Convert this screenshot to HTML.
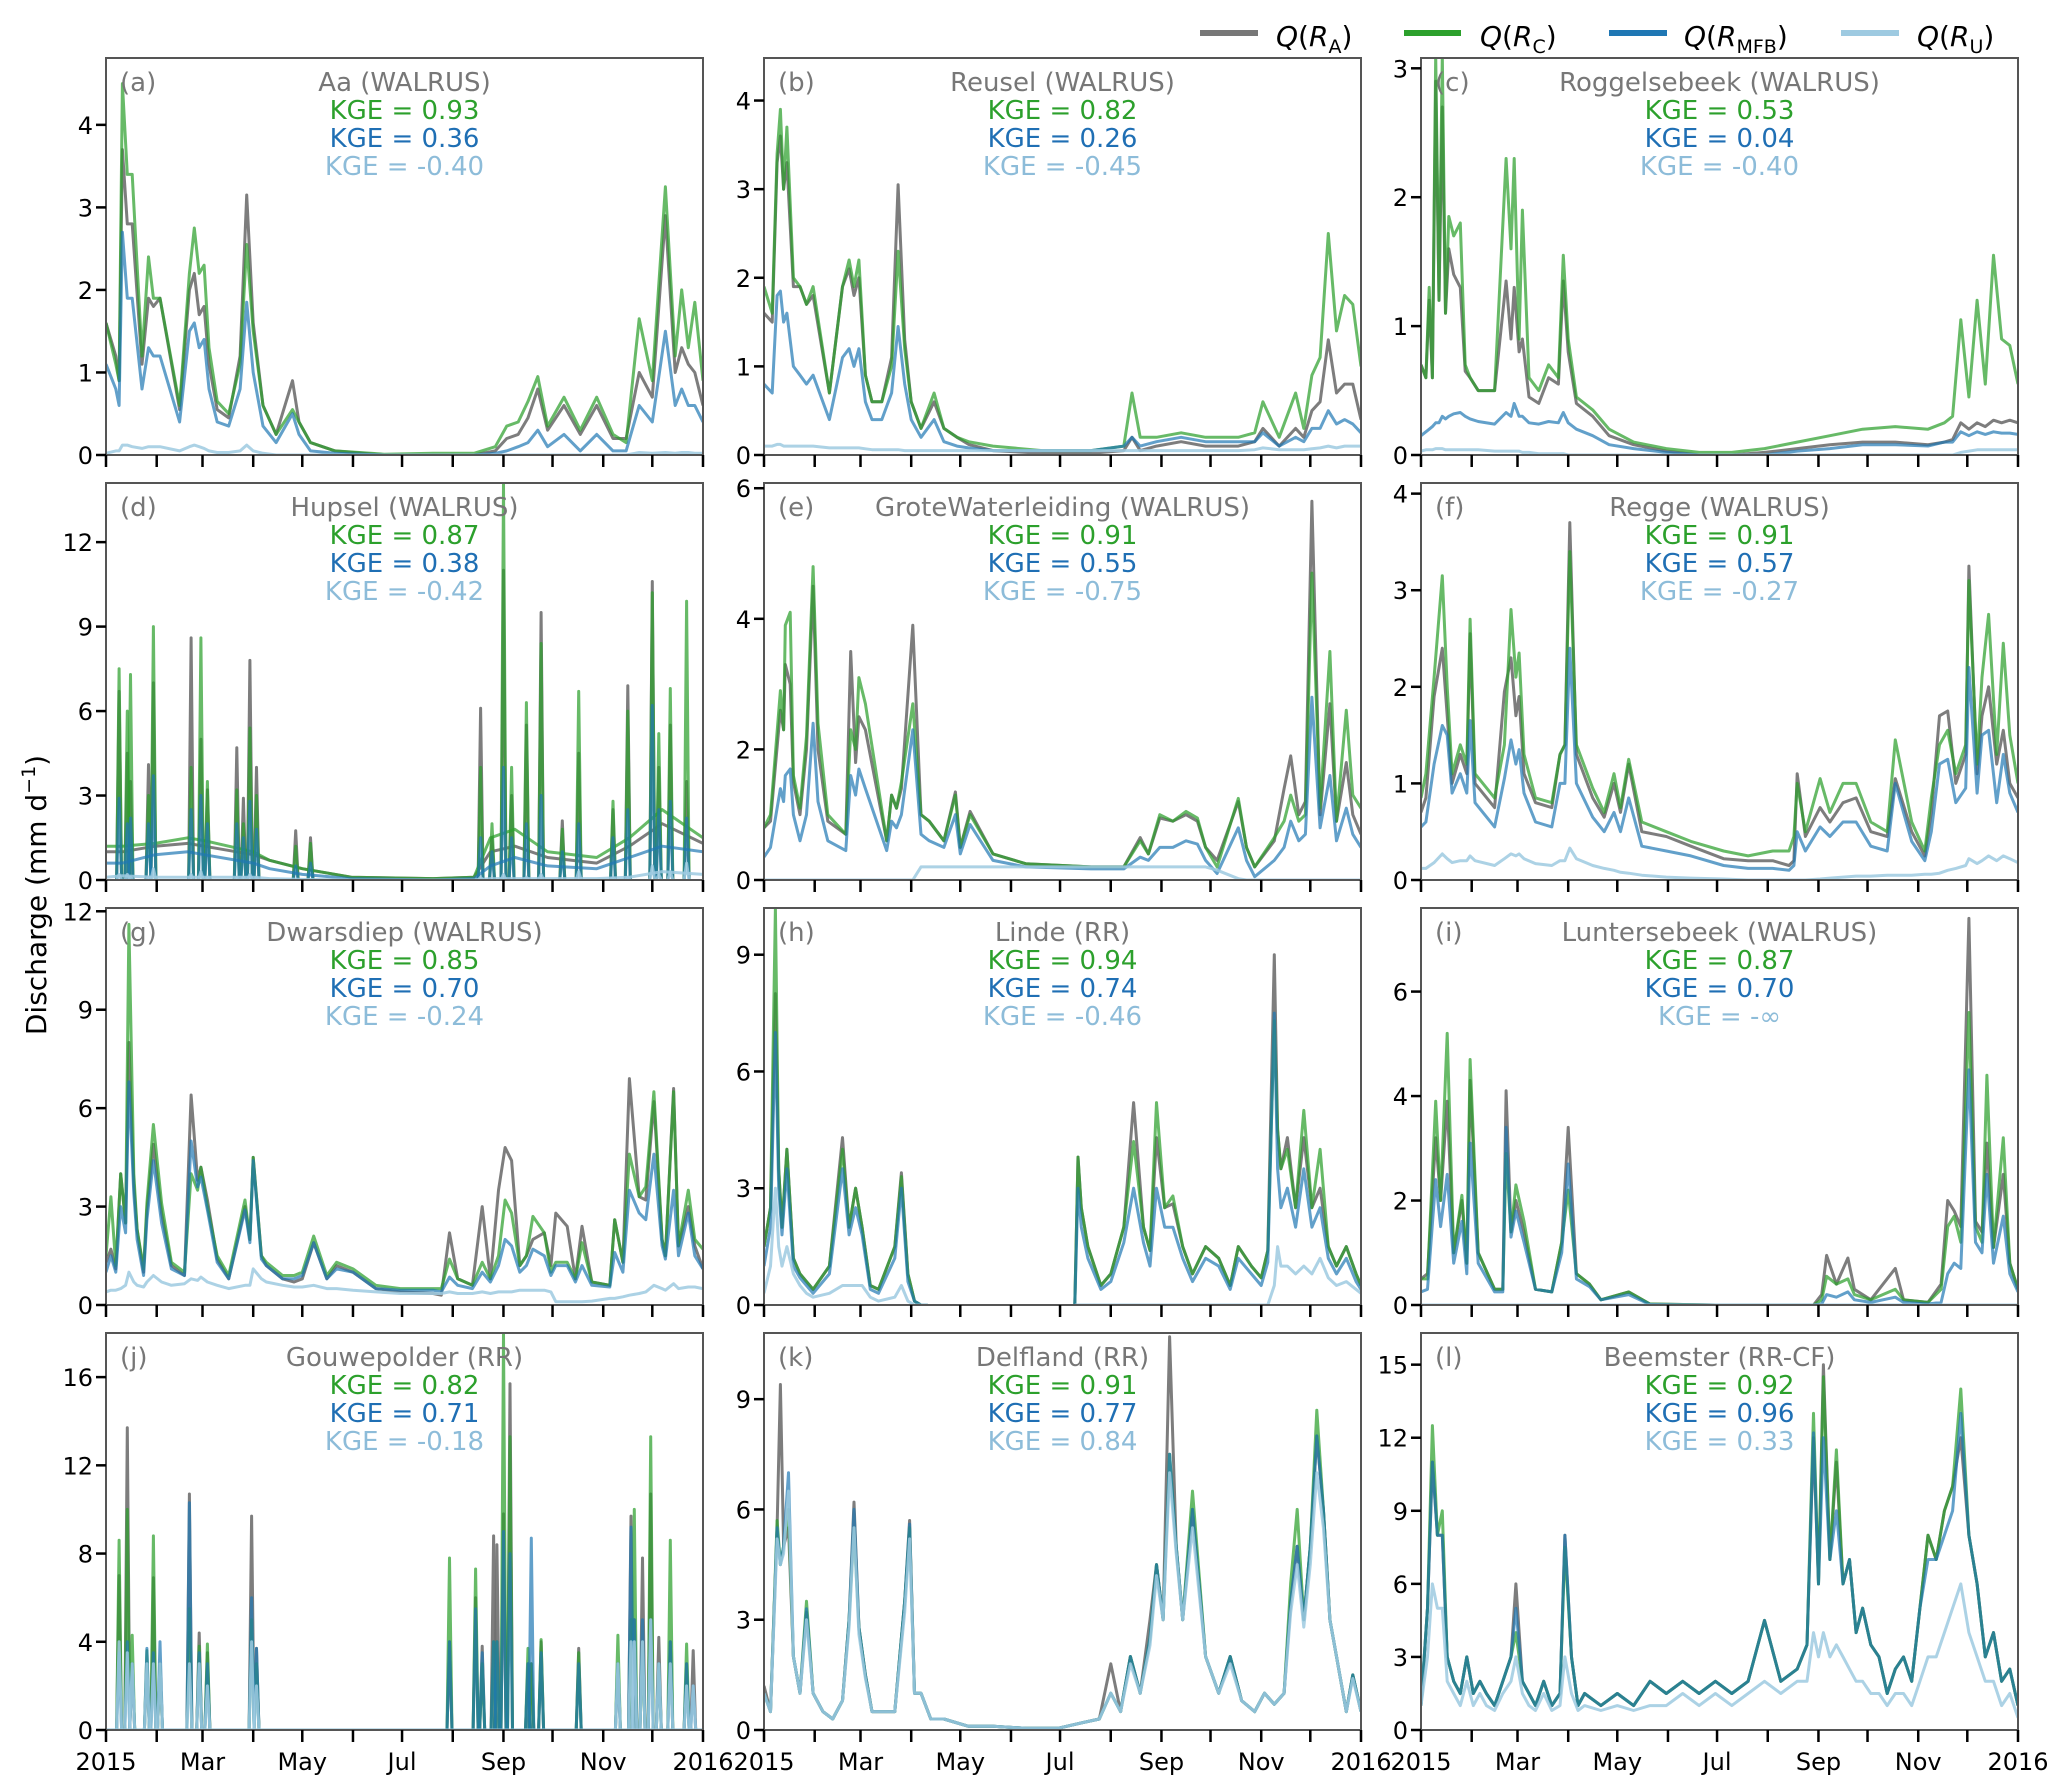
<!DOCTYPE html>
<html><head><meta charset="utf-8"><title>Discharge panels</title>
<style>
html,body{margin:0;padding:0;background:#fff;}
svg{display:block;font-family:"DejaVu Sans","Liberation Sans",sans-serif;}
</style></head>
<body>
<svg id="fig" width="2068" height="1791" viewBox="0 0 2068 1791" xmlns="http://www.w3.org/2000/svg">
  <g id="legend">
    <line x1="1200" y1="33" x2="1258" y2="33" stroke="#777" stroke-width="6"/>
    <text x="1276" y="46" font-size="28"><tspan font-style="italic">Q</tspan>(<tspan font-style="italic">R</tspan><tspan font-size="19" dy="7">A</tspan><tspan dy="-7">)</tspan></text>
    <line x1="1404" y1="33" x2="1461" y2="33" stroke="#2ca02c" stroke-width="6"/>
    <text x="1480" y="46" font-size="28"><tspan font-style="italic">Q</tspan>(<tspan font-style="italic">R</tspan><tspan font-size="19" dy="7">C</tspan><tspan dy="-7">)</tspan></text>
    <line x1="1609" y1="33" x2="1667" y2="33" stroke="#1f77b4" stroke-width="6"/>
    <text x="1684" y="46" font-size="28"><tspan font-style="italic">Q</tspan>(<tspan font-style="italic">R</tspan><tspan font-size="19" dy="7">MFB</tspan><tspan dy="-7">)</tspan></text>
    <line x1="1841" y1="33" x2="1899" y2="33" stroke="#9ecae1" stroke-width="6"/>
    <text x="1917" y="46" font-size="28"><tspan font-style="italic">Q</tspan>(<tspan font-style="italic">R</tspan><tspan font-size="19" dy="7">U</tspan><tspan dy="-7">)</tspan></text>
  </g>
  <text x="0" y="0" font-size="28" text-anchor="middle" transform="translate(46,895) rotate(-90)">Discharge (mm d<tspan font-size="19" dy="-11">−1</tspan><tspan dy="11">)</tspan></text>
</svg>
<script>
// ---------- data (days of 2015, values in mm/d) ----------
const monthTickDays = [0,31,59,90,120,151,181,212,243,273,304,334,365];
const xLabelDays = [0,59,120,181,243,304,365];
const xLabels = ["2015","Mar","May","Jul","Sep","Nov","2016"];

const panelLetters = ["(a)","(b)","(c)","(d)","(e)","(f)","(g)","(h)","(i)","(j)","(k)","(l)"];
const panelTitles = ["Aa (WALRUS)","Reusel (WALRUS)","Roggelsebeek (WALRUS)","Hupsel (WALRUS)","GroteWaterleiding (WALRUS)","Regge (WALRUS)","Dwarsdiep (WALRUS)","Linde (RR)","Luntersebeek (WALRUS)","Gouwepolder (RR)","Delfland (RR)","Beemster (RR-CF)"];
const kgeC = ["0.93","0.82","0.53","0.87","0.91","0.91","0.85","0.94","0.87","0.82","0.91","0.92"];
const kgeM = ["0.36","0.26","0.04","0.38","0.55","0.57","0.70","0.74","0.70","0.71","0.77","0.96"];
const kgeU = ["-0.40","-0.45","-0.40","-0.42","-0.75","-0.27","-0.24","-0.46","-∞","-0.18","0.84","0.33"];
const yMaxes = [4.81,4.48,3.08,14.1,6.08,4.11,12.1,10.2,7.6,18.0,10.8,16.3];
const yTicks = [[0,1,2,3,4],[0,1,2,3,4],[0,1,2,3],[0,3,6,9,12],[0,2,4,6],[0,1,2,3,4],[0,3,6,9,12],[0,3,6,9],[0,2,4,6],[0,4,8,12,16],[0,3,6,9],[0,3,6,9,12,15]];

// (a) Aa
const daysA = [0,6,8,10,13,16,22,26,29,33,45,51,54,57,60,63,68,75,82,86,90,96,104,114,118,125,140,170,200,225,238,245,252,258,264,270,280,290,300,310,318,326,334,342,348,352,356,360,365];
const raA = [1.6,1.2,0.9,3.7,2.8,2.8,1.1,1.9,1.8,1.9,0.55,2.0,2.2,1.7,1.8,1.1,0.55,0.45,1.2,3.15,1.6,0.6,0.25,0.9,0.4,0.15,0.05,0,0,0,0.05,0.2,0.25,0.45,0.8,0.3,0.6,0.25,0.6,0.2,0.2,1.0,0.7,2.9,1.0,1.3,1.1,1.0,0.6];
const rcA = [1.6,1.1,0.9,4.5,3.4,3.4,1.2,2.4,1.9,1.9,0.6,2.2,2.75,2.2,2.3,1.3,0.65,0.5,1.1,2.55,1.5,0.6,0.25,0.55,0.4,0.15,0.05,0.01,0.02,0.02,0.1,0.35,0.4,0.65,0.95,0.35,0.7,0.3,0.7,0.25,0.15,1.65,0.9,3.25,1.2,2.0,1.3,1.85,0.9];
const rmA = [1.1,0.8,0.6,2.7,1.9,1.9,0.8,1.3,1.2,1.2,0.4,1.5,1.6,1.3,1.4,0.8,0.4,0.35,0.8,1.85,1.0,0.35,0.15,0.5,0.25,0.05,0.02,0,0,0,0.02,0.05,0.1,0.15,0.3,0.1,0.25,0.05,0.25,0.05,0.05,0.6,0.4,1.5,0.6,0.8,0.6,0.6,0.4];
const ruA = [0.02,0.05,0.05,0.12,0.12,0.1,0.08,0.1,0.1,0.1,0.05,0.1,0.12,0.1,0.08,0.05,0.03,0.03,0.05,0.12,0.05,0.02,0,0,0,0,0,0,0,0,0,0,0,0,0,0,0,0,0,0,0,0.03,0.02,0.03,0.02,0.03,0.03,0.02,0.02];

// (b) Reusel
const daysB = [0,5,8,10,12,14,18,22,26,30,40,48,52,55,58,62,66,72,78,82,86,90,96,104,110,118,125,140,170,200,220,225,230,240,255,270,290,300,305,315,325,330,335,340,345,350,355,360,365];
const raB = [1.6,1.5,3.3,3.6,3.0,3.3,1.9,1.9,1.7,1.8,0.7,1.9,2.1,1.8,2.0,0.9,0.6,0.6,1.1,3.05,1.3,0.6,0.3,0.6,0.3,0.2,0.12,0.05,0.02,0.02,0.05,0.2,0.05,0.1,0.15,0.1,0.1,0.15,0.3,0.1,0.3,0.2,0.5,0.6,1.3,0.7,0.8,0.8,0.4];
const rcB = [1.9,1.6,3.4,3.9,3.0,3.7,2.0,1.9,1.7,1.9,0.7,1.9,2.2,1.9,2.2,0.9,0.6,0.6,1.0,2.3,1.2,0.6,0.3,0.7,0.3,0.2,0.15,0.1,0.05,0.05,0.1,0.7,0.2,0.2,0.25,0.2,0.2,0.25,0.6,0.2,0.7,0.3,0.9,1.1,2.5,1.4,1.8,1.7,1.0];
const rmB = [0.8,0.7,1.8,1.85,1.5,1.6,1.0,0.9,0.8,0.9,0.4,1.1,1.2,1.0,1.2,0.6,0.4,0.4,0.7,1.45,0.8,0.4,0.2,0.4,0.15,0.1,0.08,0.05,0.05,0.05,0.1,0.2,0.1,0.15,0.2,0.15,0.15,0.15,0.25,0.1,0.2,0.15,0.3,0.3,0.5,0.35,0.4,0.35,0.25];
const ruB = [0.1,0.1,0.12,0.12,0.1,0.1,0.1,0.1,0.1,0.1,0.08,0.08,0.08,0.08,0.08,0.07,0.06,0.06,0.06,0.06,0.05,0.05,0.05,0.05,0.05,0.05,0.05,0.05,0.05,0.05,0.05,0.05,0.05,0.05,0.05,0.05,0.05,0.06,0.08,0.06,0.06,0.06,0.07,0.08,0.1,0.08,0.1,0.1,0.1];

// (c) Roggelsebeek
const daysC = [0,3,5,7,9,11,13,15,17,20,24,27,30,35,45,52,55,57,60,62,66,72,78,84,87,90,95,105,115,130,150,170,190,210,230,250,270,290,310,320,325,330,335,340,345,350,355,360,365];
const raC = [0.7,0.6,1.2,0.6,2.9,1.2,2.7,1.1,1.6,1.4,1.3,0.65,0.6,0.5,0.5,1.35,0.9,1.3,0.8,0.9,0.45,0.4,0.6,0.55,1.35,0.8,0.4,0.3,0.15,0.08,0.03,0,0,0.02,0.05,0.08,0.1,0.1,0.08,0.1,0.12,0.25,0.2,0.25,0.22,0.27,0.25,0.27,0.25];
const rcC = [0.7,0.6,1.3,0.6,3.1,1.2,3.1,1.1,1.85,1.7,1.8,0.7,0.6,0.5,0.5,2.3,1.6,2.3,0.9,1.9,0.6,0.5,0.7,0.6,1.55,0.9,0.45,0.35,0.2,0.1,0.05,0.02,0.02,0.05,0.1,0.15,0.2,0.22,0.2,0.25,0.3,1.05,0.45,1.2,0.55,1.55,0.9,0.85,0.55];
const rmC = [0.15,0.18,0.2,0.22,0.25,0.25,0.3,0.28,0.3,0.32,0.33,0.3,0.28,0.26,0.24,0.33,0.3,0.4,0.3,0.3,0.25,0.24,0.26,0.25,0.33,0.25,0.2,0.15,0.08,0.05,0.02,0,0,0,0.03,0.05,0.08,0.08,0.07,0.1,0.1,0.18,0.15,0.18,0.16,0.18,0.17,0.17,0.16];
const ruC = [0.03,0.04,0.04,0.04,0.05,0.05,0.05,0.04,0.04,0.04,0.04,0.04,0.04,0.04,0.03,0.03,0.03,0.03,0.03,0.02,0.02,0.01,0.01,0.01,0.01,0,0,0,0,0,0,0,0,0,0,0,0,0,0,0,0,0.02,0.03,0.04,0.04,0.04,0.04,0.04,0.04];

// (d) Hupsel: recession lines + flow spikes
const daysD = [0,10,30,50,60,90,100,120,150,200,225,235,250,270,300,320,340,365];
const raD = [1.0,1.0,1.2,1.3,1.2,0.9,0.7,0.4,0.1,0.05,0.1,1.0,1.2,0.8,0.6,1.2,2.0,1.3];
const rcD = [1.2,1.2,1.3,1.5,1.4,1.0,0.7,0.4,0.1,0.05,0.1,1.5,1.8,1.0,0.8,1.5,2.5,1.5];
const rmD = [0.6,0.6,0.9,1.0,0.9,0.6,0.4,0.2,0.05,0,0.05,0.5,0.8,0.5,0.4,0.8,1.2,1.0];
const ruD = [0.1,0.15,0.1,0.1,0.1,0.1,0.05,0.02,0,0,0,0.05,0.05,0.05,0.05,0.1,0.3,0.2];
const spikeDaysD = [8,13,15,26,29,52,58,62,80,84,88,92,116,125,229,236,243,248,257,266,279,289,310,319,334,338,345,355];
const spikeRaD = [6.7,4.5,3.5,4.1,7,8.6,5,3.2,4.7,2.9,7.8,4,1.75,1.5,6.1,1.5,11,3,5.5,9.5,2.1,4.5,2.5,6.9,10.6,4,5.5,3.5];
const spikeRcD = [7.5,6,7.3,3,9,4,8.6,3.5,3.2,2,5.4,3,1.2,1.3,4,2,14.1,4,6.3,8.4,1.8,6.7,2.8,6,10.2,5.2,6.8,9.9];
const spikeRmD = [2.9,2,2.2,2,3.7,2.5,3,2,2,1.5,2.8,1.8,0.5,0.6,1.5,1,4,1.5,2,3,1,2,1.5,2.5,6.2,2.5,2.8,2.2];
const spikeRuD = [0.2,0.2,0.1,0.1,0.4,0.2,0.3,0.1,0.1,0.1,0.2,0.1,0,0,0.1,0,0.2,0,0.1,0.2,0,0.3,0.1,0.1,0.5,0.2,0.3,0.6];

// (e) GroteWaterleiding
const daysE = [0,4,10,12,13,16,18,22,26,30,33,39,50,53,56,58,62,75,78,81,84,91,96,101,110,117,120,126,140,160,200,220,230,235,242,250,258,265,270,277,290,295,300,312,318,322,327,331,335,340,346,350,356,360,365];
const raE = [0.8,0.9,2.6,2.3,3.3,3.0,1.5,1.0,2.0,4.5,2.0,0.9,0.7,3.5,1.8,2.5,2.3,0.6,1.3,1.1,1.4,3.9,1.0,0.9,0.6,1.35,0.5,1.05,0.4,0.25,0.2,0.2,0.65,0.4,0.95,0.9,1.0,0.9,0.5,0.3,1.2,0.5,0.2,0.6,1.4,1.9,1.0,1.2,5.8,1.0,2.7,0.9,1.8,1.0,0.7];
const rcE = [0.8,1.0,2.9,2.3,3.9,4.1,1.6,1.1,2.2,4.8,2.4,1.0,0.7,2.3,2.0,3.1,2.7,0.6,1.3,1.1,1.5,2.7,1.0,0.9,0.6,1.3,0.5,1.0,0.4,0.25,0.2,0.2,0.6,0.4,1.0,0.9,1.05,0.95,0.5,0.2,1.25,0.5,0.2,0.65,0.9,1.3,0.9,1.0,4.7,1.1,3.5,0.9,2.6,1.3,1.1];
const rmE = [0.35,0.5,1.4,1.2,1.6,1.7,1.0,0.6,1.0,2.4,1.2,0.6,0.45,1.6,1.3,1.7,1.4,0.45,0.9,0.8,1.0,2.3,0.7,0.6,0.5,1.0,0.4,0.85,0.3,0.2,0.17,0.17,0.35,0.3,0.5,0.5,0.6,0.55,0.3,0.1,0.8,0.3,0.05,0.3,0.5,0.9,0.6,0.7,2.8,0.8,1.6,0.6,1.1,0.7,0.5];
const ruE = [0,0,0,0,0,0,0,0,0,0,0,0,0,0,0,0,0,0,0,0,0,0,0.2,0.2,0.2,0.2,0.2,0.2,0.2,0.2,0.2,0.2,0.2,0.2,0.2,0.2,0.2,0.2,0.2,0.15,0.02,0,0,0,0,0,0,0,0,0,0,0,0,0,0];

// (f) Regge
const daysF = [0,3,8,13,16,19,24,28,30,33,45,51,55,58,60,63,70,80,85,88,91,95,105,112,118,122,127,135,150,165,185,200,215,225,228,230,235,244,250,258,266,275,285,290,300,308,312,317,322,327,333,335,340,343,347,352,356,360,365];
const raF = [0.7,0.85,1.9,2.4,1.7,1.0,1.3,1.1,2.55,1.0,0.75,1.95,2.3,1.7,1.9,1.1,0.8,0.75,1.3,1.4,3.7,1.3,0.85,0.65,1.0,0.7,1.2,0.5,0.45,0.35,0.22,0.2,0.2,0.15,0.2,1.1,0.45,0.75,0.6,0.8,0.85,0.5,0.45,1.05,0.5,0.25,0.7,1.7,1.75,1.0,1.3,3.25,1.1,1.7,2.0,1.2,1.55,1.0,0.85];
const rcF = [0.85,1.1,2.1,3.15,2.0,1.1,1.4,1.2,2.7,1.1,0.85,1.4,2.8,2.1,2.35,1.3,0.85,0.8,1.3,1.4,3.4,1.4,0.95,0.7,1.1,0.75,1.25,0.6,0.5,0.4,0.3,0.25,0.3,0.3,0.45,1.0,0.5,1.05,0.7,1.0,1.0,0.6,0.5,1.45,0.6,0.3,0.85,1.4,1.55,1.1,1.4,3.1,1.2,2.1,2.75,1.3,2.45,1.5,1.0];
const rmF = [0.55,0.6,1.2,1.6,1.5,0.9,1.1,0.9,1.65,0.8,0.55,1.05,1.45,1.2,1.35,0.9,0.6,0.55,1.0,1.0,2.4,1.0,0.65,0.5,0.7,0.5,0.85,0.35,0.3,0.25,0.15,0.12,0.12,0.1,0.15,0.5,0.3,0.55,0.45,0.6,0.6,0.35,0.3,1.0,0.4,0.2,0.5,1.2,1.25,0.8,0.95,2.2,0.9,1.5,1.55,0.8,1.3,0.9,0.7];
const ruF = [0.12,0.12,0.18,0.27,0.22,0.18,0.2,0.2,0.25,0.2,0.15,0.22,0.27,0.25,0.27,0.22,0.17,0.15,0.2,0.2,0.33,0.22,0.15,0.12,0.1,0.08,0.07,0.05,0.03,0.02,0.01,0,0,0,0,0,0,0.01,0.02,0.03,0.04,0.04,0.05,0.05,0.05,0.06,0.06,0.07,0.1,0.12,0.15,0.22,0.17,0.2,0.25,0.2,0.25,0.22,0.18];

// (g) Dwarsdiep
const daysG = [0,3,6,9,12,14,17,19,23,25,29,34,40,48,52,56,58,62,68,75,85,88,90,95,98,108,115,120,127,135,141,151,165,180,200,205,210,215,224,230,235,240,244,248,253,257,261,268,272,275,282,287,291,297,308,311,316,320,326,330,335,340,342,347,350,356,360,365];
const raG = [1.3,1.7,1.1,4.0,2.5,8.0,3.7,2.3,1.0,2.9,4.9,2.8,1.2,0.9,6.4,3.8,4.2,3.2,1.4,0.8,3.0,2,4.5,1.5,1.2,0.8,0.7,0.8,1.9,0.8,1.2,1.0,0.5,0.4,0.35,0.3,2.2,0.8,0.6,3.0,0.8,3.5,4.8,4.4,1.2,1.5,2.0,2.2,1.2,2.8,2.4,0.8,2.4,0.7,0.6,2.6,1.3,6.9,3.3,3.2,6.2,2,1.5,6.6,1.8,3.0,1.8,1.1];
const rcG = [1.5,3.3,1.2,4.0,2.5,11.6,4,2.3,1.1,3.1,5.5,3.1,1.3,1.0,4.0,3.5,4.2,3.0,1.5,0.9,3.2,2,4.5,1.5,1.3,0.9,0.9,1.0,2.1,0.9,1.3,1.1,0.6,0.5,0.5,0.5,1.4,0.8,0.6,1.3,0.8,1.5,3.2,2.8,1.2,1.5,2.7,2.2,1.0,1.3,1.3,0.8,1.9,0.7,0.6,2.6,1.3,4.6,3.3,3.6,6.5,2,1.5,6.5,1.8,3.5,2.0,1.7];
const rmG = [1.0,1.5,1.0,3.0,2.2,6.8,3.4,2.0,0.9,2.6,4.4,2.5,1.1,0.9,5.0,3.6,3.9,2.9,1.3,0.8,2.9,1.9,4.4,1.4,1.2,0.8,0.8,0.9,1.9,0.8,1.1,1.0,0.5,0.45,0.45,0.4,0.85,0.6,0.5,1.0,0.7,1.2,2.0,1.8,1.0,1.2,1.7,1.5,0.9,1.2,1.2,0.7,1.2,0.6,0.55,1.6,1.0,3.5,2.8,2.6,4.6,1.8,1.4,3.5,1.5,2.8,1.5,1.1];
const ruG = [0.4,0.45,0.45,0.5,0.6,1.0,0.7,0.6,0.55,0.7,0.9,0.7,0.6,0.65,0.8,0.75,0.85,0.7,0.6,0.5,0.6,0.6,1.1,0.8,0.7,0.6,0.55,0.55,0.6,0.5,0.5,0.45,0.4,0.35,0.35,0.35,0.4,0.35,0.35,0.4,0.35,0.4,0.4,0.4,0.45,0.45,0.45,0.45,0.4,0.1,0.1,0.1,0.1,0.12,0.2,0.2,0.25,0.3,0.35,0.4,0.6,0.5,0.45,0.65,0.5,0.55,0.55,0.5];

// (h) Linde (null = missing)
const daysH = [0,4,7,9,11,14,18,22,26,30,40,48,52,56,60,65,70,80,84,88,92,96,100,110,120,130,140,180,190,192,194,198,202,206,212,220,226,232,236,240,245,250,256,262,270,278,285,290,298,304,308,312,314,316,320,325,330,335,340,345,350,356,362,365];
const raH = [1.5,2.5,8,3.5,2,4,1.2,0.8,0.6,0.4,1,4.3,2,3,2,0.5,0.4,1.5,3.4,0.8,0.1,0,0,null,null,null,null,null,0,3.8,2.5,1.5,1,0.5,0.8,2,5.2,2,1.4,4.3,2.5,2.6,1.5,0.8,1.5,1.2,0.5,1.5,1,0.7,1.4,9,4.5,3.5,4.3,2.5,4.3,2.5,3,1.5,1,1.5,0.8,0.5];
const rcH = [1.5,2.5,10.2,3.5,2,4,1.2,0.8,0.6,0.4,1,4,2,3,2,0.5,0.4,1.5,3.3,0.8,0.1,0,0,null,null,null,null,null,0,3.8,2.5,1.5,1,0.5,0.8,2,4.2,2,1.4,5.2,2.5,2.8,1.5,0.8,1.5,1.2,0.5,1.5,1,0.7,1.4,7.3,4.5,3.5,4,2.5,5,2.5,4,1.5,1,1.5,0.8,0.5];
const rmH = [1,2,7,3,1.8,3.5,1,0.7,0.5,0.3,0.8,3.5,1.8,2.5,1.8,0.4,0.3,1.2,3,0.6,0.1,0,0,null,null,null,null,null,0,3,2,1.2,0.8,0.4,0.6,1.6,3,1.6,1,3,2,2,1.2,0.6,1.2,1,0.4,1.2,0.8,0.5,1.1,7.5,3.5,2.5,3,2,3.5,2,2.5,1.2,0.8,1.2,0.6,0.4];
const ruH = [0.3,1,3,1.5,1,1.5,0.8,0.5,0.3,0.2,0.3,0.5,0.5,0.5,0.5,0.2,0.1,0.2,0.5,0.1,0,0,0,null,null,null,null,null,0,0,0,0,0,0,0,0,0,0,0,0,0,0,0,0,0,0,0,0,0,0,0,0.5,1.5,1,1,0.8,1,0.8,1.2,0.7,0.5,0.6,0.4,0.3];

// (i) Luntersebeek
const daysI = [0,4,9,12,16,20,25,28,30,35,45,50,52,55,58,63,70,80,86,90,95,103,110,127,140,180,240,245,248,254,261,265,275,290,295,310,318,322,326,330,335,339,343,346,350,356,360,365];
const raI = [0.5,0.6,3.2,2,3.9,1,2.0,0.8,4.3,1,0.3,0.3,4.1,1.4,2,1.4,0.3,0.25,1.2,3.4,0.6,0.4,0.1,0.25,0.02,0,0,0.2,0.95,0.4,0.9,0.3,0.1,0.7,0.1,0.05,0.4,2.0,1.8,1.5,7.4,1.6,1.4,3.1,1.1,2.5,0.8,0.3];
const rcI = [0.5,0.5,3.9,2,5.2,1,2.1,0.8,4.7,1,0.3,0.3,2.9,1.4,2.3,1.6,0.3,0.25,1.2,2.2,0.6,0.4,0.1,0.25,0.02,0,0,0.1,0.55,0.4,0.5,0.2,0.1,0.3,0.1,0.05,0.3,1.5,1.7,1.2,5.6,1.5,1.2,4.4,1.1,3.2,0.8,0.3];
const rmI = [0.25,0.3,2.4,1.5,2.5,0.8,1.6,0.6,3.1,0.8,0.25,0.25,3.4,1.3,1.8,1.2,0.3,0.25,1.0,2.7,0.5,0.35,0.1,0.2,0.01,0,0,0.02,0.2,0.15,0.25,0.1,0.05,0.15,0.05,0.02,0.05,0.6,0.8,0.7,4.5,1.2,1.0,2.5,0.8,1.7,0.6,0.25];
const ruI = [0,0,0,0,0,0,0,0,0,0,0,0,0,0,0,0,0,0,0,0,0,0,0,0,0,0,0,0,0,0,0,0,0,0,0,0,0,0,0,0,0,0,0,0,0,0,0,0];

// (j) Gouwepolder: baseline + spikes
const daysJ = [0,365];
const raJ = [0,0];
const rcJ = [0,0];
const rmJ = [0,0];
const ruJ = [0,0];
const spikeDaysJ = [8,13,16,25,29,33,51,57,62,89,92,210,226,230,237,239,243,247,258,260,266,289,313,321,323,328,333,338,345,355,359];
const spikeRaJ = [7,13.7,3,3,6.9,3,10.7,4.4,3.5,9.7,3.7,4,6,3.8,8.8,8.4,9.8,15.7,3,3,4,3.7,3,9.7,5,7.8,10.7,4.2,4,3,3.6];
const spikeRcJ = [8.6,10,4.3,3.6,8.8,3,5.5,3.8,3.9,5,3,7.8,7.3,3,4,4,18,13.3,3.7,3,4.1,3.5,4.3,5,10,4,13.3,3,8.6,3.9,0];
const spikeRmJ = [3.5,4,3,3.7,3.5,4,10.3,3.5,3,6,3.7,4,5.5,3.5,4,4,9,8,3,8.7,3.5,3,3,9.2,5,5,5,3,4,3,2];
const spikeRuJ = [4,3.5,3,3,3,3,3,3,2,4,2,0,0,0,0,0,0,0,0,0,0,0,3,4,4,4,5,3,3,2,2];

// (k) Delfland
const daysK = [0,4,8,10,12,15,18,22,26,30,36,42,48,52,55,58,62,66,72,80,86,89,92,96,102,110,125,140,160,180,195,205,212,218,224,230,236,240,244,248,252,256,262,270,278,285,292,300,306,312,318,322,326,330,334,338,342,346,350,356,360,365];
const raK = [1.2,0.5,5.5,9.4,5,5.5,2,1,3.2,1,0.5,0.3,0.8,3,6.2,2.8,1.5,0.5,0.5,0.5,3.5,5.7,1,1,0.3,0.3,0.1,0.1,0.05,0.05,0.2,0.3,1.8,0.5,2,1,3,4.5,3,10.7,5,3,6,2,1,2,0.8,0.5,1,0.7,1,3.5,5,3,5,8,6,3,2,0.5,1.5,0.5];
const rcK = [1,0.5,5.7,4.5,5,6,2,1,3.5,1,0.5,0.3,0.8,3,5.5,2.8,1.5,0.5,0.5,0.5,3.5,5.5,1,1,0.3,0.3,0.1,0.1,0.05,0.05,0.2,0.3,1,0.5,2,1,2.5,4.5,3,7.5,5,3,6.5,2,1,2,0.8,0.5,1,0.7,1,4,6,3,5,8.7,6,3,2,0.5,1.5,0.5];
const rmK = [1,0.5,5.5,4.5,5,7,2,1,3.3,1,0.5,0.3,0.8,3,6,2.8,1.5,0.5,0.5,0.5,3.5,5.6,1,1,0.3,0.3,0.1,0.1,0.05,0.05,0.2,0.3,1,0.5,2,1,2.5,4.5,3,7.5,5,3,6,2,1,2,0.8,0.5,1,0.7,1,3.5,5,3,5,8,6,3,2,0.5,1.5,0.5];
const ruK = [1,0.5,5.2,4.5,4.8,6.5,2,1,3,1,0.5,0.3,0.8,2.8,5.5,2.6,1.4,0.5,0.5,0.5,3.2,5.2,1,1,0.3,0.3,0.1,0.1,0.05,0.05,0.2,0.3,1,0.5,1.8,1,2.3,4.2,3,7,4.8,3,5.5,2,1,1.8,0.8,0.5,1,0.7,1,3.2,4.5,2.8,4.5,7,5.5,3,2,0.5,1.4,0.5];

// (l) Beemster
const daysL = [0,4,7,10,13,16,20,24,28,32,36,40,45,50,55,58,62,66,70,75,80,85,88,92,96,100,110,120,130,140,150,160,170,180,190,200,210,220,230,236,240,243,246,250,254,258,262,266,270,275,280,285,290,295,300,305,310,315,320,325,330,335,340,345,350,355,360,365];
const raL = [1,5,11,8,8,3,2,1.5,3,1.5,2,1.5,1,2,3,6,2,1.5,1,2,1,1.5,8,3,1,1.5,1,1.5,1,2,1.5,2,1.5,2,1.5,2,4.5,2,2.5,3.5,12,6,15,7,11,6,7,4,5,3.5,3,1.5,2.5,3,2,5,8,7,9,10,12,8,6,3,4,2,2.5,1];
const rcL = [1,5,12.5,8,9,3,2,1.5,3,1.5,2,1.5,1,2,3,4,2,1.5,1,2,1,1.5,7.5,3,1,1.5,1,1.5,1,2,1.5,2,1.5,2,1.5,2,4.5,2,2.5,3.5,13,6,14.5,7,11.5,6,7,4,5,3.5,3,1.5,2.5,3,2,5,8,7,9,10,14,8,6,3,4,2,2.5,1];
const rmL = [1,5,11,8,8,3,2,1.5,3,1.5,2,1.5,1,2,3,5,2,1.5,1,2,1,1.5,8,3,1,1.5,1,1.5,1,2,1.5,2,1.5,2,1.5,2,4.5,2,2.5,3.5,12.2,6,12,7,9,6,7,4,5,3.5,3,1.5,2.5,3,2,5,7,7,8,9,13,8,6,3,4,2,2.5,1];
const ruL = [1,3,6,5,5,2,1.5,1,2,1,1.5,1,0.8,1.5,2,3,1.5,1,0.8,1.5,0.8,1,3,1.5,0.8,1,0.8,1,0.8,1,1,1.5,1,1.5,1,1.5,2,1.5,2,2,4,3,4,3,3.5,3,2.5,2,2,1.5,1.5,1,1.5,1.5,1,2,3,3,4,5,6,4,3,2,2,1,1.5,0.5];

// ---------- rendering ----------
const NS = "http://www.w3.org/2000/svg";
const svg = document.getElementById("fig");
const colX = [106, 764, 1421];
const rowY = [58, 483, 908, 1333];
const PW = 597, PH = 397;
const seriesStyle = {
  ra: {stroke:"#6f6f6f", op:0.9},
  rc: {stroke:"#2ca02c", op:0.72},
  rm: {stroke:"#1f77b4", op:0.7},
  ru: {stroke:"#9ecae1", op:0.85}
};
const panelSeries = [
  {days:daysA, ra:raA, rc:rcA, rm:rmA, ru:ruA},
  {days:daysB, ra:raB, rc:rcB, rm:rmB, ru:ruB},
  {days:daysC, ra:raC, rc:rcC, rm:rmC, ru:ruC},
  {days:daysD, ra:raD, rc:rcD, rm:rmD, ru:ruD, sd:spikeDaysD, sra:spikeRaD, src:spikeRcD, srm:spikeRmD, sru:spikeRuD},
  {days:daysE, ra:raE, rc:rcE, rm:rmE, ru:ruE},
  {days:daysF, ra:raF, rc:rcF, rm:rmF, ru:ruF},
  {days:daysG, ra:raG, rc:rcG, rm:rmG, ru:ruG},
  {days:daysH, ra:raH, rc:rcH, rm:rmH, ru:ruH},
  {days:daysI, ra:raI, rc:rcI, rm:rmI, ru:ruI},
  {days:daysJ, ra:raJ, rc:rcJ, rm:rmJ, ru:ruJ, sd:spikeDaysJ, sra:spikeRaJ, src:spikeRcJ, srm:spikeRmJ, sru:spikeRuJ},
  {days:daysK, ra:raK, rc:rcK, rm:rmK, ru:ruK},
  {days:daysL, ra:raL, rc:rcL, rm:rmL, ru:ruL}
];

function mk(tag, attrs, parent){
  const el = document.createElementNS(NS, tag);
  for (const k in attrs) el.setAttribute(k, attrs[k]);
  (parent||svg).appendChild(el);
  return el;
}

for (let p = 0; p < 12; p++) {
  const x0 = colX[p % 3], y0 = rowY[Math.floor(p / 3)];
  const ymax = yMaxes[p];
  const xs = d => x0 + d / 365 * PW;
  const ys = v => y0 + PH - Math.min(v, ymax * 1.02) / ymax * PH;
  const g = mk("g", {});
  
  

  const clipId = "clip" + p;
  const cp = mk("clipPath", {id: clipId}, g);
  mk("rect", {x: x0, y: y0, width: PW, height: PH}, cp);
  const plot = mk("g", {"clip-path": "url(#" + clipId + ")"}, g);
  
  

  const ds = panelSeries[p];
  ["ra", "rc", "rm", "ru"].forEach(key => {
    const vals = ds[key];
    const n = Math.min(ds.days.length, vals.length);
    let d = "", pen = false;
    for (let i = 0; i < n; i++) {
      if (vals[i] === null) { pen = false; continue; }
      d += (pen ? "L" : "M") + xs(ds.days[i]).toFixed(1) + " " + ys(vals[i]).toFixed(1);
      pen = true;
    }
    const st = seriesStyle[key];
    const path = mk("path", {d: d, fill: "none", stroke: st.stroke, "stroke-opacity": st.op, "stroke-width": 3, "stroke-linejoin": "round"}, plot);
    
    
    if (ds.sd) {
      const sv = ds["s" + key];
      const m = Math.min(ds.sd.length, sv.length);
      for (let i = 0; i < m; i++) {
        if (!sv[i]) continue;
        const sx = xs(ds.sd[i]);
        const sp = mk("path", {d: "M" + (sx - 2.5).toFixed(1) + " " + ys(0) + "L" + sx.toFixed(1) + " " + ys(sv[i]).toFixed(1) + "L" + (sx + 2.5).toFixed(1) + " " + ys(0), fill: "none", stroke: st.stroke, "stroke-opacity": st.op, "stroke-width": 3, "stroke-linejoin": "round"}, plot);
        
        
      }
    }
  });

  const frame = mk("rect", {x: x0, y: y0, width: PW, height: PH, fill: "none", stroke: "#555", "stroke-width": 2}, g);
  
  

  // x ticks
  monthTickDays.forEach(td => {
    const t = mk("line", {x1: xs(td), y1: y0 + PH, x2: xs(td), y2: y0 + PH + 12, stroke: "#000", "stroke-width": 2.5}, g);
    
    
  });
  if (p >= 9) {
    xLabelDays.forEach((td, i) => {
      const t = mk("text", {x: xs(td), y: y0 + PH + 40, "font-size": 24, "text-anchor": "middle", fill: "#000"}, g);
      t.textContent = xLabels[i];
      
      
    });
  }
  // y ticks
  yTicks[p].forEach(v => {
    const yy = ys(v);
    const t = mk("line", {x1: x0 - 10, y1: yy, x2: x0, y2: yy, stroke: "#000", "stroke-width": 2.5}, g);
    
    
    const lb = mk("text", {x: x0 - 13, y: yy + 9, "font-size": 24, "text-anchor": "end", fill: "#000"}, g);
    lb.textContent = v;
    
    
  });

  // annotations
  const cx = x0 + PW * 0.5;
  const letter = mk("text", {x: x0 + 14, y: y0 + 33, "font-size": 26, fill: "#777"}, g);
  letter.textContent = panelLetters[p];
  
  
  const title = mk("text", {x: cx, y: y0 + 33, "font-size": 26, fill: "#777", "text-anchor": "middle"}, g);
  title.textContent = panelTitles[p];
  
  
  const k1 = mk("text", {x: cx, y: y0 + 61, "font-size": 26, fill: "#2ca02c", "text-anchor": "middle"}, g);
  k1.textContent = "KGE = " + kgeC[p];
  
  
  const k2 = mk("text", {x: cx, y: y0 + 89, "font-size": 26, fill: "#1f6fb4", "text-anchor": "middle"}, g);
  k2.textContent = "KGE = " + kgeM[p];
  
  
  const k3 = mk("text", {x: cx, y: y0 + 117, "font-size": 26, fill: "#8dbcd9", "text-anchor": "middle"}, g);
  k3.textContent = "KGE = " + kgeU[p];
  
  
}
</script>
</body></html>
